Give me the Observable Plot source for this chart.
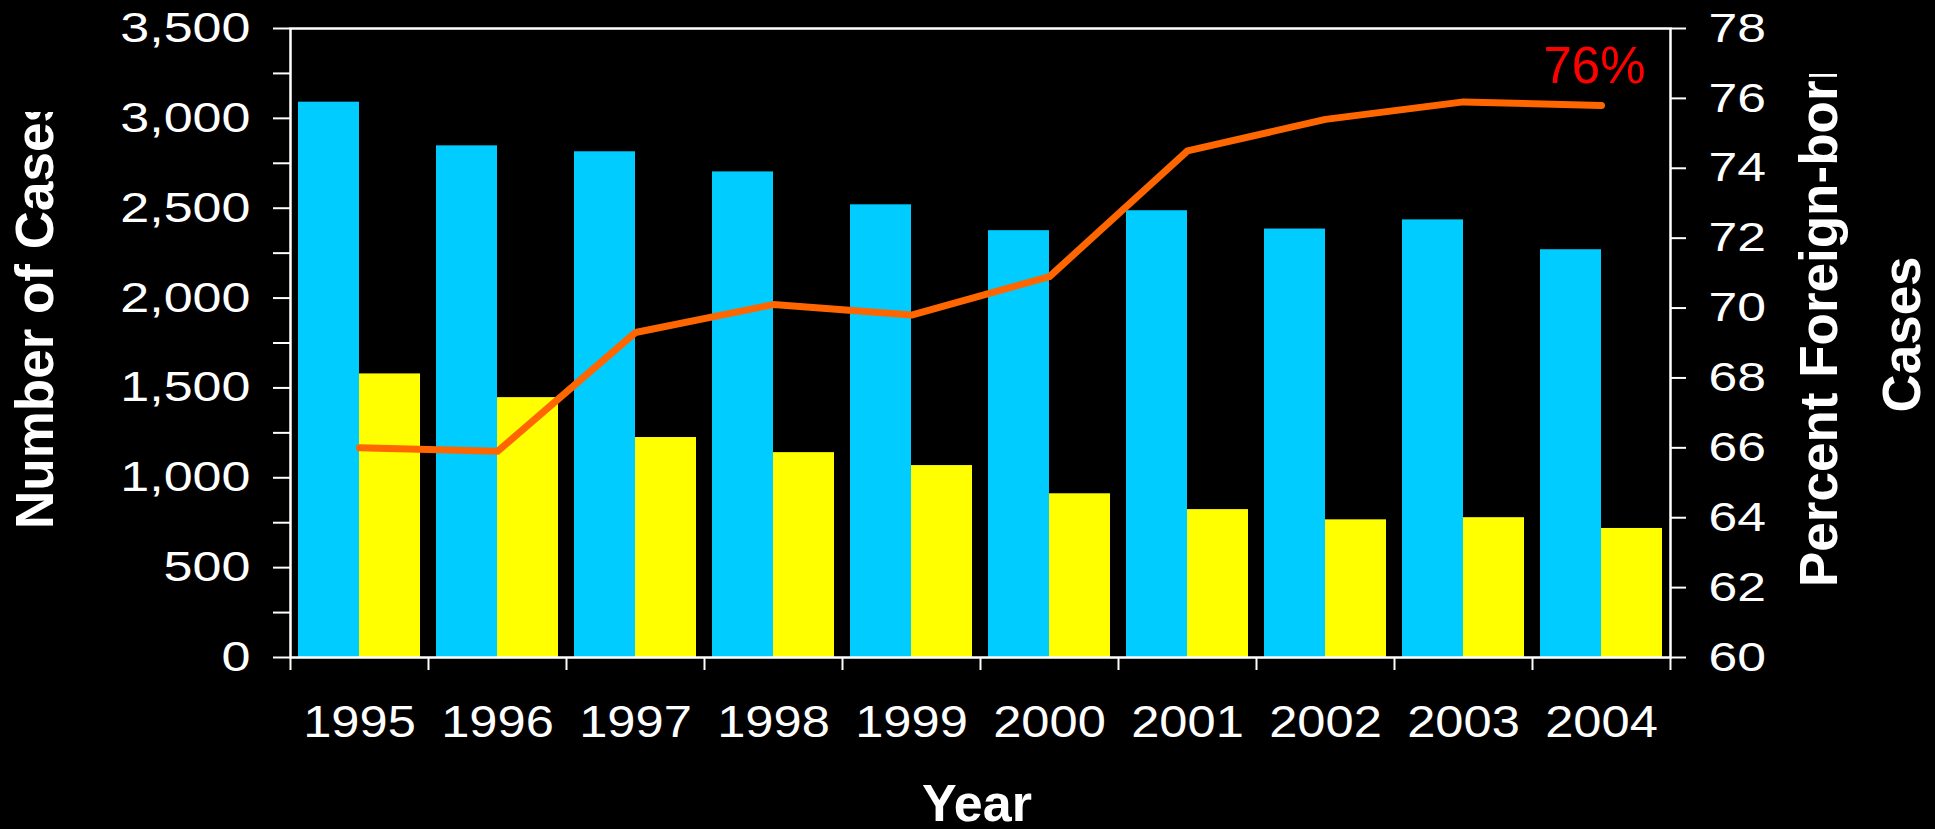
<!DOCTYPE html>
<html>
<head>
<meta charset="utf-8">
<script src="https://cdn.jsdelivr.net/npm/d3@7"></script>
<script src="https://cdn.jsdelivr.net/npm/@observablehq/plot@0.6"></script>
<style>
  html, body { margin: 0; padding: 0; background: #000; overflow: hidden; }
</style>
</head>
<body>
<div id="chart"></div>
<script>
// TB cases by year: all cases, foreign-born cases, and percent foreign-born
const years = ["1995", "1996", "1997", "1998", "1999", "2000", "2001", "2002", "2003", "2004"];
const totalCases = [3090, 2847, 2814, 2702, 2519, 2375, 2486, 2384, 2435, 2269];
const foreignBornCases = [1578, 1446, 1224, 1140, 1068, 911, 823, 766, 778, 718];
const percentForeignBorn = [66.0, 65.9, 69.3, 70.1, 69.8, 70.9, 74.5, 75.4, 75.9, 75.8];

const caseTicks = d3.range(0, 3501, 250);
const percentTicks = [60, 62, 64, 66, 68, 70, 72, 74, 76, 78];

const W = 1935, H = 829;
const margin = {top: 28, right: 265, bottom: 172, left: 290};
const casesDomain = [0, 3500];
const percentDomain = [60, 78];

// The percent series shares the cases y scale through a linear mapping
const pctToCases = d3.scaleLinear(percentDomain, casesDomain);

const rows = years.map((year, i) => ({
  year,
  total: totalCases[i],
  foreign: foreignBornCases[i],
  pct: percentForeignBorn[i]
}));

const bandwidth = (W - margin.left - margin.right) / years.length;
const font = "'Liberation Sans', Arial, Helvetica, sans-serif";

const plot = Plot.plot({
  width: W,
  height: H,
  marginTop: margin.top,
  marginRight: margin.right,
  marginBottom: margin.bottom,
  marginLeft: margin.left,
  style: {background: "#000", color: "#fff", fontFamily: font, overflow: "visible"},
  x: {type: "band", domain: years, padding: 0, axis: null},
  y: {domain: casesDomain, axis: null},
  marks: [
    Plot.barY(rows, {x: "year", y: "total", fill: "#00ccff", insetLeft: 8, insetRight: 69}),
    Plot.barY(rows, {x: "year", y: "foreign", fill: "#ffff00", insetLeft: 69, insetRight: 8}),
    Plot.line(rows, {
      x: "year",
      y: d => pctToCases(d.pct),
      stroke: "#ff6600",
      strokeWidth: 7,
      strokeLinecap: "round",
      strokeLinejoin: "round"
    }),
    Plot.text(rows.slice(-1), {
      x: "year",
      y: d => pctToCases(d.pct),
      text: d => `${Math.round(d.pct)}%`,
      fill: "#ff0000",
      fontSize: 51,
      lineAnchor: "bottom",
      dy: -22,
      dx: -7
    }),
    Plot.frame({stroke: "#fff", strokeWidth: 2.5}),
    Plot.axisY({
      anchor: "left",
      ticks: caseTicks,
      tickFormat: d => (d % 500 === 0 ? d3.format(",")(d) : ""),
      tickSize: 17,
      tickPadding: 23,
      fontSize: 42,
      strokeWidth: 2,
      label: null
    }),
    Plot.axisY({
      anchor: "right",
      ticks: percentTicks.map(pctToCases),
      tickFormat: d => String(Math.round(pctToCases.invert(d))),
      tickSize: 15,
      tickPadding: 23,
      fontSize: 41,
      strokeWidth: 2,
      label: null
    }),
    Plot.axisX({anchor: "bottom", tickSize: 0, tickPadding: 48, fontSize: 44, label: null}),
    Plot.axisX({anchor: "bottom", tickFormat: () => "", tickSize: 13, strokeWidth: 2, dx: -bandwidth / 2, label: null}),
    Plot.axisX({anchor: "bottom", ticks: years.slice(-1), tickFormat: () => "", tickSize: 13, strokeWidth: 2, dx: bandwidth / 2, label: null})
  ]
});

document.getElementById("chart").appendChild(plot);

// Widen the numeric tick labels
function stretchLabels(group, factor) {
  if (!group) return;
  group.querySelectorAll("text").forEach(t => {
    const w = t.getComputedTextLength();
    if (w > 0) {
      t.setAttribute("textLength", (w * factor).toFixed(1));
      t.setAttribute("lengthAdjust", "spacingAndGlyphs");
    }
  });
}
const yLabelGroups = plot.querySelectorAll('g[aria-label="y-axis tick label"]');
stretchLabels(yLabelGroups[0], 1.24);
stretchLabels(yLabelGroups[1], 1.26);
const xLabelGroups = plot.querySelectorAll('g[aria-label="x-axis tick label"]');
stretchLabels(xLabelGroups[0], 1.15);

// Axis titles (the rotated ones are cut off by their text boxes at the top)
const svg = d3.select(plot);
const defs = svg.append("defs");
defs.append("clipPath").attr("id", "clip-left-title")
  .append("rect").attr("x", 0).attr("y", 112).attr("width", 120).attr("height", H);
defs.append("clipPath").attr("id", "clip-right-title")
  .append("rect").attr("x", 1760).attr("y", 74).attr("width", 175).attr("height", H);

const titleStyle = sel => sel
  .attr("fill", "#fff")
  .attr("font-weight", "bold")
  .attr("font-family", font);

svg.append("g").attr("clip-path", "url(#clip-left-title)")
  .append("text")
  .attr("transform", "translate(53,529) rotate(-90)")
  .attr("text-anchor", "start")
  .attr("font-size", 53)
  .call(titleStyle)
  .text("Number of Cases");

svg.append("g").attr("clip-path", "url(#clip-right-title)")
  .append("text")
  .attr("transform", "translate(1837,587) rotate(-90)")
  .attr("text-anchor", "start")
  .attr("font-size", 53)
  .call(titleStyle)
  .text("Percent Foreign-born");

svg.append("text")
  .attr("transform", "translate(1920,334.5) rotate(-90)")
  .attr("text-anchor", "middle")
  .attr("font-size", 53)
  .call(titleStyle)
  .text("Cases");

svg.append("text")
  .attr("x", 977).attr("y", 821)
  .attr("text-anchor", "middle")
  .attr("font-size", 52)
  .call(titleStyle)
  .text("Year");
</script>
</body>
</html>
